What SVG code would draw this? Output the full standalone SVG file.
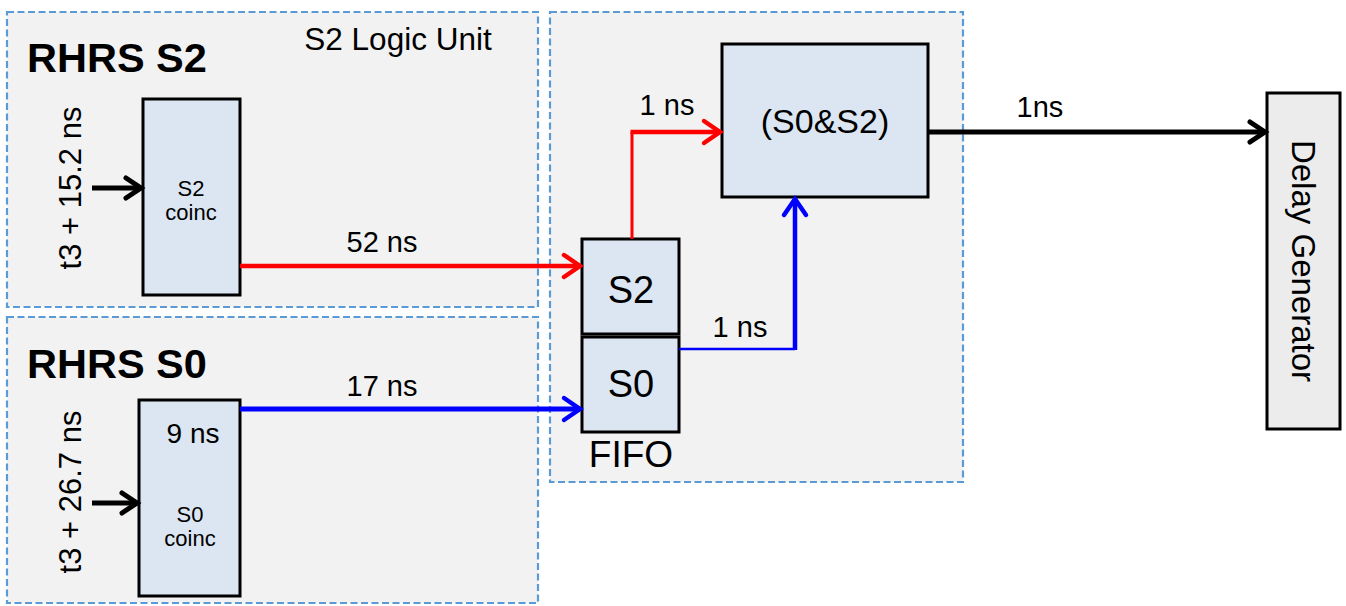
<svg xmlns="http://www.w3.org/2000/svg" width="1346" height="606" viewBox="0 0 1346 606">
<style>
text{font-family:"Liberation Sans",Arial,sans-serif;fill:#000}
.panel{fill:#f2f2f2;stroke:#5b9bd5;stroke-width:2.2;stroke-dasharray:7 3.5}
.node{fill:#dce6f2;stroke:#000;stroke-width:3}
.lbl{font-size:29px;text-anchor:middle}
.title{font-size:41.5px;font-weight:bold}
</style>
<defs>
<marker id="ahK" markerUnits="userSpaceOnUse" viewBox="-20 -15 24 30" refX="0" refY="0" markerWidth="24" markerHeight="30" orient="auto" overflow="visible"><path d="M-15,-10 L0,0 L-15,10" fill="none" stroke="#000" stroke-width="5" stroke-linecap="round"/></marker>
<marker id="ahR" markerUnits="userSpaceOnUse" viewBox="-20 -15 24 30" refX="0" refY="0" markerWidth="24" markerHeight="30" orient="auto" overflow="visible"><path d="M-16,-11 L0,0 L-16,11" fill="none" stroke="#ff0000" stroke-width="4.5" stroke-linecap="round"/></marker>
<marker id="ahB" markerUnits="userSpaceOnUse" viewBox="-20 -15 24 30" refX="0" refY="0" markerWidth="24" markerHeight="30" orient="auto" overflow="visible"><path d="M-16,-11 L0,0 L-16,11" fill="none" stroke="#0000ff" stroke-width="4.5" stroke-linecap="round"/></marker>
</defs>

<g id="panel-s2">
<rect class="panel" x="7" y="12" width="531" height="295"/>
<text class="title" x="27" y="72">RHRS S2</text>
<text x="398" y="50" font-size="31.5" text-anchor="middle">S2 Logic Unit</text>
<text x="0" y="0" font-size="31" text-anchor="middle" transform="translate(81,188) rotate(-90)">t3 + 15.2 ns</text>
</g>
<g id="panel-s0">
<rect class="panel" x="7" y="317" width="531" height="286"/>
<text class="title" x="27" y="378">RHRS S0</text>
<text x="0" y="0" font-size="31" text-anchor="middle" transform="translate(81,492) rotate(-90)">t3 + 26.7 ns</text>
</g>
<g id="panel-logic">
<rect class="panel" x="550" y="12" width="413" height="470"/>
</g>

<g id="s2-coinc">
<rect class="node" x="143" y="99" width="97" height="196"/>
<text x="191" y="196" font-size="22" text-anchor="middle">S2</text>
<text x="191" y="220" font-size="22" text-anchor="middle">coinc</text>
</g>
<g id="s0-coinc">
<rect class="node" x="139" y="400" width="101" height="196"/>
<text x="193" y="443" font-size="28" text-anchor="middle">9 ns</text>
<text x="190" y="522" font-size="22" text-anchor="middle">S0</text>
<text x="190" y="546" font-size="22" text-anchor="middle">coinc</text>
</g>
<g id="fifo">
<rect class="node" x="582" y="239" width="97" height="95"/>
<text x="631" y="303" font-size="38" text-anchor="middle">S2</text>
<rect class="node" x="582" y="337" width="97" height="95"/>
<text x="631" y="397" font-size="38" text-anchor="middle">S0</text>
<text x="631" y="467" font-size="37" text-anchor="middle">FIFO</text>
</g>
<g id="and-gate">
<rect class="node" x="722" y="44" width="206" height="153"/>
<text x="825" y="133" font-size="34" text-anchor="middle">(S0&amp;S2)</text>
</g>
<g id="delay-generator">
<rect x="1267" y="93" width="73" height="336" fill="#ececec" stroke="#000" stroke-width="3"/>
<text x="0" y="0" font-size="33" text-anchor="middle" transform="translate(1292,261) rotate(90)">Delay Generator</text>
</g>

<g id="connectors" fill="none">
<path d="M92,188 H141" stroke="#000" stroke-width="5" marker-end="url(#ahK)"/>
<path d="M92,503 H137" stroke="#000" stroke-width="5" marker-end="url(#ahK)"/>
<path d="M240,266 H580" stroke="#ff0000" stroke-width="4.5" marker-end="url(#ahR)"/>
<path d="M240,409 H580" stroke="#0000ff" stroke-width="5" marker-end="url(#ahB)"/>
<path d="M632,239 V132" stroke="#ff0000" stroke-width="3"/>
<path d="M630.5,132 H720" stroke="#ff0000" stroke-width="4.5" marker-end="url(#ahR)"/>
<path d="M679,349 H795" stroke="#0000ff" stroke-width="2.5"/>
<path d="M795,350 V199" stroke="#0000ff" stroke-width="4.5" marker-end="url(#ahB)"/>
<path d="M928,132 H1265" stroke="#000" stroke-width="5" marker-end="url(#ahK)"/>
</g>

<g id="labels">
<text class="lbl" x="382" y="252">52 ns</text>
<text class="lbl" x="382" y="396">17 ns</text>
<text class="lbl" x="667" y="115">1 ns</text>
<text class="lbl" x="740" y="337">1 ns</text>
<text class="lbl" x="1040" y="117">1ns</text>
</g>
</svg>
